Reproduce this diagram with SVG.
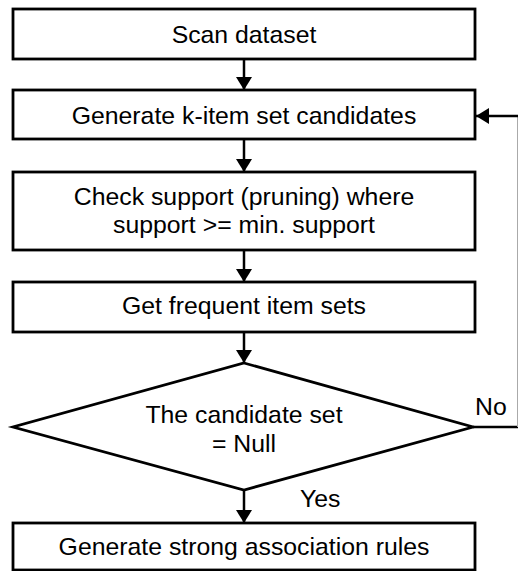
<svg xmlns="http://www.w3.org/2000/svg" width="518" height="571" viewBox="0 0 518 571">
<defs>
<style>
.box{fill:#fff;stroke:#000;stroke-width:2.8}
.t{font-family:"Liberation Sans",Arial,sans-serif;font-size:24.8px;fill:#000;text-anchor:middle}
.lbl{font-family:"Liberation Sans",Arial,sans-serif;font-size:24.8px;fill:#000}
.c{fill:none;stroke:#000;stroke-width:2.5}
</style>
<marker id="ah" markerUnits="userSpaceOnUse" markerWidth="14" markerHeight="16" viewBox="0 0 13 16" refX="13" refY="8" orient="auto">
<path d="M0,0 L13,8 L0,16 Z" fill="#000"/>
</marker>
</defs>
<rect width="518" height="571" fill="#fff"/>
<g id="connectors">
<line class="c" x1="244" y1="59" x2="244" y2="90" marker-end="url(#ah)"/>
<line class="c" x1="244" y1="139" x2="244" y2="172" marker-end="url(#ah)"/>
<line class="c" x1="244" y1="250" x2="244" y2="282" marker-end="url(#ah)"/>
<line class="c" x1="244" y1="332" x2="244" y2="363" marker-end="url(#ah)"/>
<line class="c" x1="244" y1="490" x2="244" y2="523" marker-end="url(#ah)"/>
<line class="c" x1="473" y1="427" x2="518" y2="427"/>
<line x1="517.5" y1="427" x2="517.5" y2="116" stroke="#aaa" stroke-width="1"/>
<line class="c" x1="518" y1="116" x2="476" y2="116" marker-end="url(#ah)"/>
<text class="lbl" x="475" y="415">No</text>
<text class="lbl" x="300" y="507">Yes</text>
</g>
<g id="scan">
<rect class="box" x="13" y="9" width="462" height="50"/>
<text class="t" x="244" y="43">Scan dataset</text>
</g>
<g id="generate">
<rect class="box" x="13" y="90" width="462" height="49"/>
<text class="t" x="244" y="124">Generate k-item set candidates</text>
</g>
<g id="check">
<rect class="box" x="13" y="172" width="462" height="78"/>
<text class="t" x="244" y="205">Check support (pruning) where</text>
<text class="t" x="244" y="233">support &gt;= min. support</text>
</g>
<g id="frequent">
<rect class="box" x="13" y="282" width="462" height="50"/>
<text class="t" x="244" y="314">Get frequent item sets</text>
</g>
<g id="decision">
<polygon class="box" points="244,363 473,427 244,490 13,427"/>
<text class="t" x="244" y="423">The candidate set</text>
<text class="t" x="244" y="452">= Null</text>
</g>
<g id="rules">
<rect class="box" x="13" y="523" width="462" height="47"/>
<text class="t" x="244" y="555">Generate strong association rules</text>
</g>
</svg>
